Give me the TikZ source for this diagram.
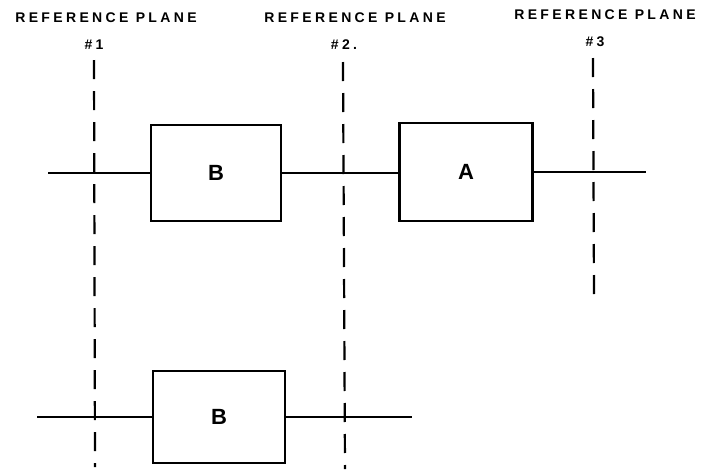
\documentclass[tikz,border=0pt]{standalone}
\usepackage{fontspec}
\setmainfont{Liberation Sans}
\newfontfamily\lblfont[LetterSpace=24]{Liberation Sans Bold}
\begin{document}
\begin{tikzpicture}[x=1pt,y=-1pt,
  blk/.style={draw,line width=2.6pt,minimum width=130pt,minimum height=96pt,inner sep=0pt,font=\bfseries\fontsize{22}{24}\selectfont},
  wire/.style={line width=2.6pt},
  plane/.style={line width=2.2pt,dash pattern=on 19pt off 12pt},
  lbl/.style={font=\lblfont\fontsize{14}{16}\selectfont,inner sep=0pt}]
\useasboundingbox (0,0) rectangle (702,469);
% labels
\node[lbl] (l1) at (106,18) {REFERENCE PLANE};
\node[lbl] (n1) at (94,45) {\#1};
\node[lbl] (l2) at (355,18) {REFERENCE PLANE};
\node[lbl] (n2) at (344,45) {\#2.};
\node[lbl] (l3) at (605,15) {REFERENCE PLANE};
\node[lbl] (n3) at (595,42) {\#3};
% boxes
\node[blk] (b1) at (216,173) {B};
\node[blk,minimum width=133pt,minimum height=98pt] (a) at (466,172) {A};
\node[blk,minimum width=132pt,minimum height=92pt] (b2) at (219,417) {B};
% wires
\coordinate (w1) at (48,173);
\coordinate (w2) at (646,172);
\coordinate (w3) at (37,417);
\coordinate (w4) at (412,417);
\draw[wire] (w1) -- (b1.west);
\draw[wire] (b1.east) -- (b1.east -| a.west);
\draw[wire] (a.east) -- (w2);
\draw[wire] (w3) -- (b2.west);
\draw[wire] (b2.east) -- (w4);
% planes
\coordinate (p1t) at (94,60); \coordinate (p1b) at (95,467);
\coordinate (p2t) at (343,62); \coordinate (p2b) at (345,469);
\coordinate (p3t) at (593,58); \coordinate (p3b) at (594,294);
\draw[plane] (p1t) -- (p1b);
\draw[plane] (p2t) -- (p2b);
\draw[plane] (p3t) -- (p3b);
\end{tikzpicture}
\end{document}
